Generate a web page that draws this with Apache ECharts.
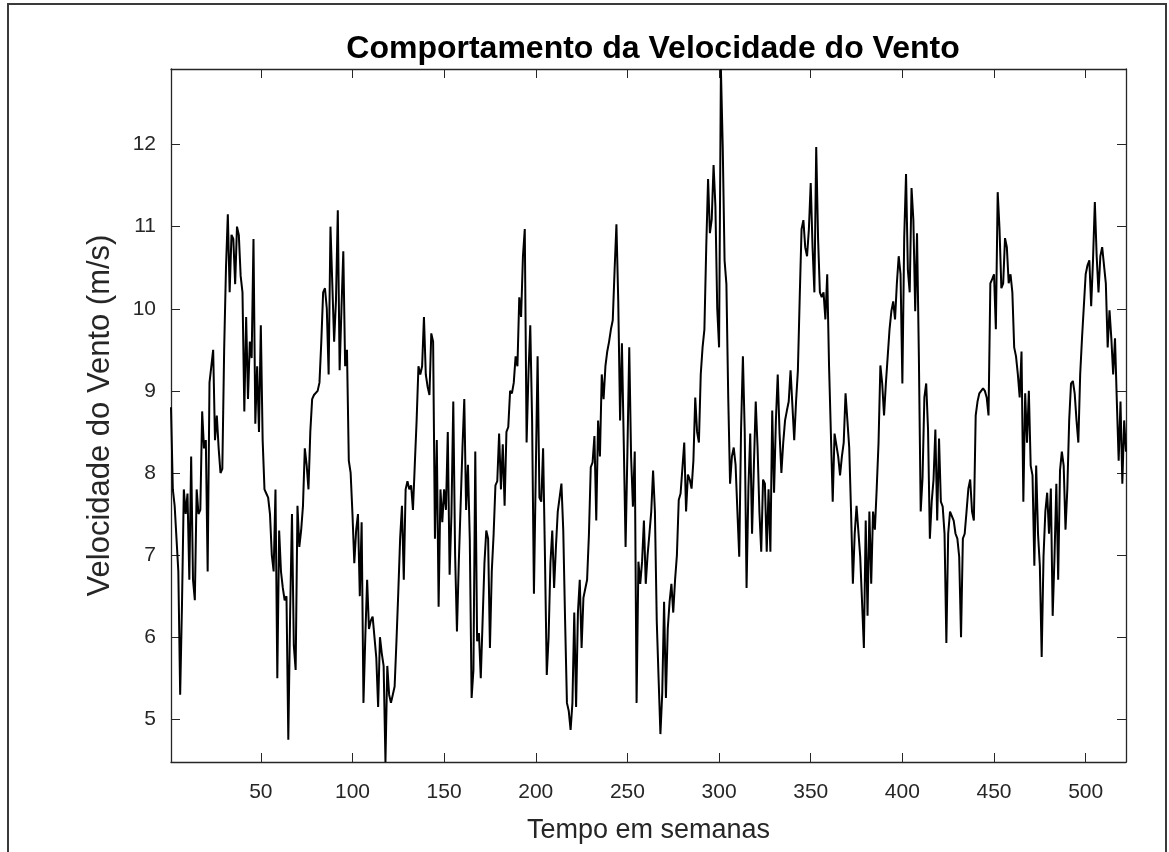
<!DOCTYPE html>
<html>
<head>
<meta charset="utf-8">
<script src="https://cdn.jsdelivr.net/npm/echarts@6/dist/echarts.min.js"></script>
<style>
html,body{margin:0;padding:0;background:#ffffff;}
#chart{width:1169px;height:852px;}
</style>
</head>
<body>
<div id="chart"></div>
<script>
// ---- text ----
const titleText = 'Comportamento da Velocidade do Vento';
const xAxisTitle = 'Tempo em semanas';
const yAxisTitle = 'Velocidade do Vento (m/s)';

// ---- ticks / axis ranges ----
const xTickValues = [50, 100, 150, 200, 250, 300, 350, 400, 450, 500];
const yTickValues = [5, 6, 7, 8, 9, 10, 11, 12];
const xRange = [1, 522];
const yRange = [4.48, 12.92];

// ---- weekly wind speed (m/s) ----
const speedWeeks001to065 = [
  8.8, 7.8, 7.6, 7.2, 6.8, 5.3, 6.4, 7.8, 7.5, 7.75,
  6.7, 8.2, 6.7, 6.45, 7.8, 7.5, 7.55, 8.75, 8.3, 8.4,
  6.8, 9.1, 9.1, 9.5, 8.4, 8.7, 8.3, 8.0, 8.05, 9.5,
  10.5, 11.15, 10.2, 10.9, 10.85, 10.3, 11.0, 10.9, 10.4, 10.2,
  8.75, 9.9, 8.9, 9.6, 9.4, 10.85, 8.6, 9.3, 8.5, 9.8,
  8.4, 7.8, 7.75, 7.7, 7.5, 7.0, 6.8, 7.8, 5.5, 7.3,
  6.8, 6.6, 6.45, 6.5, 4.75
];
const speedWeeks066to130 = [
  6.3, 7.5, 5.9, 5.6, 7.6, 7.1, 7.3, 7.6, 8.3, 8.1,
  7.8, 8.5, 8.9, 8.95, 8.95, 9.0, 9.1, 9.6, 10.2, 10.25,
  10.0, 9.2, 11.0, 10.3, 9.6, 10.1, 11.2, 9.25, 10.0, 10.7,
  9.3, 9.5, 8.15, 8.0, 7.5, 6.9, 7.3, 7.5, 6.5, 7.4,
  5.2, 6.0, 6.7, 6.1, 6.2, 6.25, 6.0, 5.75, 5.15, 6.0,
  5.8, 5.65, 4.48, 5.65, 5.3, 5.2, 5.3, 5.4, 5.95, 6.55,
  7.2, 7.6, 6.7, 7.8, 7.9
];
const speedWeeks131to195 = [
  7.8, 7.85, 7.55, 8.1, 8.64, 9.3, 9.2, 9.3, 9.9, 9.2,
  9.05, 8.95, 9.7, 9.6, 7.2, 8.4, 6.37, 7.8, 7.4, 7.8,
  7.55, 8.5, 6.76, 7.5, 8.87, 7.0, 6.07, 6.9, 7.6, 8.3,
  8.9, 7.55, 8.1, 7.2, 5.26, 5.6, 8.26, 5.95, 6.05, 5.5,
  6.2, 6.9, 7.3, 7.2, 5.87, 6.8, 7.25, 7.85, 7.9, 8.48,
  7.8, 8.35, 7.6, 8.5, 8.56, 9.0, 8.97, 9.1, 9.42, 9.3,
  10.14, 9.9, 10.64, 10.97, 8.37
];
const speedWeeks196to261 = [
  9.2, 9.8, 8.64, 6.53, 8.0, 9.42, 7.7, 7.65, 8.3, 7.0,
  5.54, 6.0, 6.9, 7.3, 6.6, 7.1, 7.53, 7.7, 7.87, 7.3,
  6.2, 5.2, 5.1, 4.87, 5.2, 6.3, 5.15, 6.3, 6.7, 5.87,
  6.48, 6.5, 6.7, 7.25, 8.07, 8.13, 8.45, 7.42, 8.64, 8.2,
  9.2, 8.9, 9.3, 9.48, 9.6, 9.75, 9.86, 10.47, 11.03, 10.09,
  8.64, 9.58, 8.37, 7.1, 8.26, 9.53, 8.2, 7.59, 8.26, 5.2,
  6.92, 6.65, 6.92, 7.42, 6.65, 7.0
];
const speedWeeks262to327 = [
  7.26, 7.53, 8.03, 7.53, 6.2, 5.5, 4.82, 5.32, 6.43, 5.26,
  6.1, 6.43, 6.65, 6.3, 6.7, 7.0, 7.67, 7.75, 7.75, 8.37,
  7.53, 7.98, 7.92, 7.81, 8.15, 8.92, 8.5, 8.37, 9.2, 9.53,
  9.75, 10.75, 11.58, 10.92, 11.09, 11.75, 11.25, 10.0, 9.53, 12.92,
  11.97, 10.59, 10.3, 8.92, 7.87, 8.2, 8.31, 8.1, 7.53, 6.98,
  8.53, 9.42, 8.5, 6.6, 7.81, 8.48, 7.26, 8.09, 8.87, 8.31,
  7.53, 7.04, 7.92, 7.87, 7.04, 7.8
];
const speedWeeks328to393 = [
  7.04, 8.76, 7.76, 8.64, 9.2, 8.48, 8.0, 8.37, 8.64, 8.76,
  8.87, 9.25, 9.25, 8.4, 8.87, 9.25, 10.14, 10.97, 11.08, 10.75,
  10.64, 10.97, 11.53, 10.75, 10.2, 11.97, 10.86, 10.2, 10.14, 10.2,
  9.87, 10.42, 9.3, 8.48, 7.65, 8.48, 8.48, 8.2, 7.97, 8.2,
  8.37, 8.97, 8.64, 8.31, 7.53, 6.65, 7.26, 7.6, 7.6, 6.98,
  6.43, 5.87, 7.42, 6.26, 7.53, 6.65, 7.53, 7.31, 7.81, 8.37,
  9.31, 9.09, 8.7, 9.09, 9.42, 9.75
];
const speedWeeks394to457 = [
  9.97, 10.09, 9.87, 10.31, 10.64, 10.42, 9.09, 10.86, 11.64, 10.47,
  10.2, 11.47, 11.08, 9.97, 10.92, 9.42, 7.53, 7.94, 8.92, 9.09,
  8.53, 7.2, 7.65, 7.92, 8.53, 7.42, 8.42, 7.65, 7.59, 7.26,
  5.93, 7.26, 7.53, 7.53, 7.42, 7.26, 7.2, 6.98, 6.0, 7.2,
  7.26, 7.53, 7.81, 7.92, 7.53, 7.42, 8.7, 8.87, 8.97, 9.0,
  9.03, 9.0, 8.92, 8.7, 10.31, 10.36, 10.42, 9.75, 11.42, 10.97,
  10.25, 10.31, 10.86, 10.75
];
const speedWeeks458to522 = [
  10.31, 10.42, 10.2, 9.53, 9.42, 9.2, 8.92, 9.48, 7.65, 8.97,
  8.37, 9.0, 8.09, 7.97, 6.87, 8.09, 7.26, 6.87, 5.76, 6.98,
  7.53, 7.76, 7.26, 7.81, 6.26, 6.98, 7.87, 6.7, 8.03, 8.26,
  8.09, 7.31, 7.81, 8.64, 9.09, 9.12, 8.97, 8.64, 8.37, 9.2,
  9.64, 10.03, 10.42, 10.53, 10.59, 10.03, 10.59, 11.3, 10.64, 10.2,
  10.64, 10.75, 10.75, 10.31, 9.53, 9.98, 9.64, 9.2, 9.64, 8.87,
  8.15, 8.87, 7.87, 8.64, 8.26
];

const speed = [].concat(
  speedWeeks001to065, speedWeeks066to130, speedWeeks131to195,
  speedWeeks196to261, speedWeeks262to327, speedWeeks328to393,
  speedWeeks394to457, speedWeeks458to522
);
const seriesData = speed.map((v, i) => [i + 1, v]);

// ---- styles ----
const FONT = '"Liberation Sans", Arial, Helvetica, sans-serif';
const INK = '#262626';

const chart = echarts.init(document.getElementById('chart'), null, { renderer: 'canvas' });

const tickStyle = { show: true, inside: true, length: 9, lineStyle: { color: INK, width: 1 } };
const lineStyleAxis = { show: true, onZero: false, lineStyle: { color: INK, width: 1.3 } };

chart.setOption({
  backgroundColor: '#ffffff',
  animation: false,
  title: {
    text: titleText,
    left: 648,
    textAlign: 'center',
    top: 28,
    textStyle: { fontFamily: FONT, fontWeight: 'bold', fontSize: 32, color: '#000000' }
  },
  grid: { left: 171, right: 43, top: 69, bottom: 90, containLabel: false },
  xAxis: [
    {
      type: 'value', min: xRange[0], max: xRange[1], position: 'bottom',
      name: xAxisTitle, nameLocation: 'middle', nameGap: 55,
      nameTextStyle: { fontFamily: FONT, fontSize: 27, color: INK },
      axisLine: lineStyleAxis,
      axisTick: Object.assign({}, tickStyle, { customValues: xTickValues }),
      axisLabel: { customValues: xTickValues, margin: 20, fontFamily: FONT, fontSize: 21, color: INK },
      splitLine: { show: false }
    },
    {
      type: 'value', min: xRange[0], max: xRange[1], position: 'top',
      axisLine: lineStyleAxis,
      axisTick: Object.assign({}, tickStyle, { customValues: xTickValues }),
      axisLabel: { show: false },
      splitLine: { show: false }
    }
  ],
  yAxis: [
    {
      type: 'value', min: yRange[0], max: yRange[1], position: 'left',
      name: yAxisTitle, nameLocation: 'middle', nameGap: 55, nameRotate: 90,
      nameTextStyle: { fontFamily: FONT, fontSize: 31, color: INK },
      axisLine: lineStyleAxis,
      axisTick: Object.assign({}, tickStyle, { customValues: yTickValues }),
      axisLabel: { customValues: yTickValues, margin: 15, fontFamily: FONT, fontSize: 21, color: INK },
      splitLine: { show: false }
    },
    {
      type: 'value', min: yRange[0], max: yRange[1], position: 'right',
      axisLine: lineStyleAxis,
      axisTick: Object.assign({}, tickStyle, { customValues: yTickValues }),
      axisLabel: { show: false },
      splitLine: { show: false }
    }
  ],
  series: [
    {
      type: 'line',
      xAxisIndex: 0, yAxisIndex: 0,
      data: seriesData,
      showSymbol: false,
      symbol: 'none',
      lineStyle: { color: '#000000', width: 2 },
      clip: true
    }
  ],
  graphic: [
    {
      type: 'rect',
      shape: { x: 8, y: 4, width: 1158, height: 900 },
      style: { fill: 'none', stroke: '#3a3a3a', lineWidth: 2 },
      silent: true
    }
  ]
});
</script>
</body>
</html>
